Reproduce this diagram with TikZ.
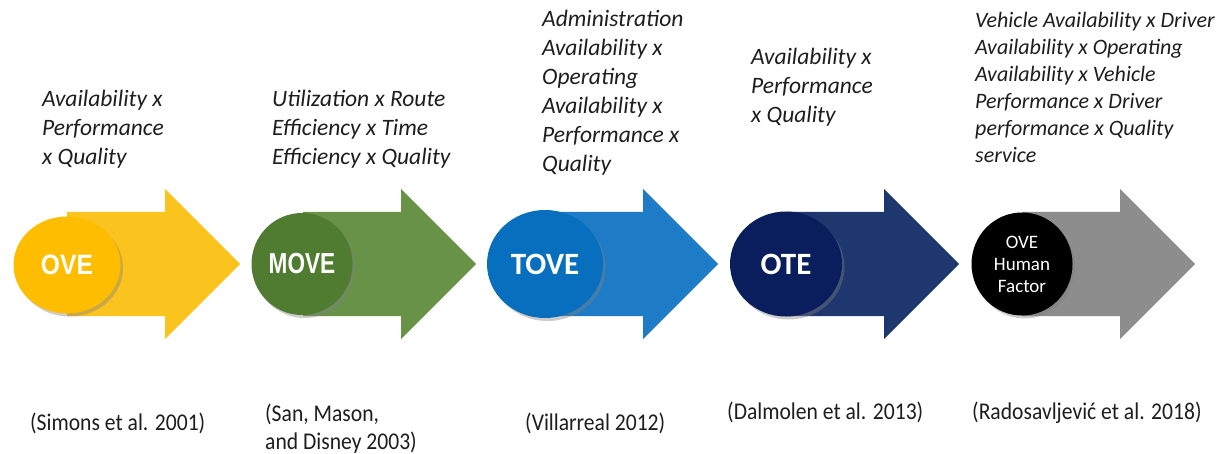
\documentclass[tikz,border=0pt]{standalone}
\usepackage{fontspec}
\setmainfont{Carlito}
\newfontfamily\arialfont{Liberation Sans}
\usepackage{xcolor}
\usepackage{tikz}
\usetikzlibrary{positioning, shapes.geometric, shadows}

\definecolor{ovearrow}{RGB}{250,195,30}
\definecolor{ovecircle}{RGB}{255,189,0}
\definecolor{movearrow}{RGB}{104,146,72}
\definecolor{movecircle}{RGB}{80,124,50}
\definecolor{tovearrow}{RGB}{30,124,198}
\definecolor{tovecircle}{RGB}{8,110,190}
\definecolor{otearrow}{RGB}{30,55,110}
\definecolor{otecircle}{RGB}{10,30,94}
\definecolor{hfarrow}{RGB}{141,141,141}
\definecolor{textgray}{RGB}{30,30,30}

\tikzset{
	stage/.style={ellipse, inner sep=0pt, text=white, align=center, drop shadow={shadow xshift=2.5pt, shadow yshift=-3pt, opacity=0.4}},
	formula/.style={anchor=north west, align=left, inner sep=0pt, font=\fontsize{23.5}{29}\selectfont\itshape, text=textgray},
	source/.style={anchor=west, align=left, inner sep=0pt, font=\fontsize{24}{28}\selectfont\addfontfeature{FakeStretch=0.9}, text=textgray},
}

\begin{document}
\begin{tikzpicture}[x=1pt, y=-1pt]
		\fill[white] (0,0) rectangle (1222,454);
		\useasboundingbox (0,0) rectangle (1222,454);
		% arrows
		\fill[ovearrow] (67,212) -- (165,212) -- (165,189) -- (240,264) -- (165,339) -- (165,316) -- (67,316) -- cycle;
		\fill[movearrow] (303,212) -- (401,212) -- (401,189) -- (476,264) -- (401,339) -- (401,316) -- (303,316) -- cycle;
		\fill[tovearrow] (545,212) -- (643,212) -- (643,189) -- (718,264) -- (643,339) -- (643,316) -- (545,316) -- cycle;
		\fill[otearrow] (786,212) -- (884,212) -- (884,189) -- (959,264) -- (884,339) -- (884,316) -- (786,316) -- cycle;
		\fill[hfarrow] (1022,212) -- (1120,212) -- (1120,189) -- (1195,264) -- (1120,339) -- (1120,316) -- (1022,316) -- cycle;
		% stages
		\node[stage, fill=ovecircle, minimum width=107pt, minimum height=97pt, font=\arialfont\bfseries\fontsize{28}{30}\selectfont\addfontfeature{FakeStretch=0.88}] (ove) at (67,265) {OVE};
		\node[stage, fill=movecircle, minimum width=101pt, minimum height=102pt, font=\arialfont\bfseries\fontsize{29}{30}\selectfont\addfontfeature{FakeStretch=0.78}] (move) at (302,264) {MOVE};
		\node[stage, fill=tovecircle, minimum width=116pt, minimum height=108pt, font=\fontsize{31}{34}\selectfont\bfseries] (tove) at (545,264) {TOVE};
		\node[stage, fill=otecircle, minimum width=112pt, minimum height=105pt, font=\fontsize{31}{34}\selectfont\bfseries] (ote) at (786,264) {OTE};
		\node[stage, fill=black, minimum width=101pt, minimum height=103pt, font=\fontsize{19}{22}\selectfont] (hf) at (1022,264) {OVE\\Human\\Factor};
		% formulas
		\node[formula] (ovef) at (42,90) {Availability x\\Performance\\x Quality};
		\node[formula] (movef) at (272,90) {Utilization x Route\\Efficiency x Time\\Efficiency x Quality};
		\node[formula] (tovef) at (542,10) {Administration\\Availability x\\Operating\\Availability x\\Performance x\\Quality};
		\node[formula] (otef) at (751,48) {Availability x\\Performance\\x Quality};
		\node[formula, font=\fontsize{22}{27}\selectfont\itshape] (hff) at (975,12) {Vehicle Availability x Driver\\Availability x Operating\\Availability x Vehicle\\Performance x Driver\\performance x Quality\\service};
		% sources
		\node[source] (ovesrc) at (30,423) {(Simons et al. 2001)};
		\node[source] (movesrc) at (265,429) {(San, Mason,\\and Disney 2003)};
		\node[source] (tovesrc) at (525,423) {(Villarreal 2012)};
		\node[source] (otesrc) at (727,412) {(Dalmolen et al. 2013)};
		\node[source] (hfsrc) at (972,413) {(Radosavljević et al. 2018)};
\end{tikzpicture}
\end{document}
